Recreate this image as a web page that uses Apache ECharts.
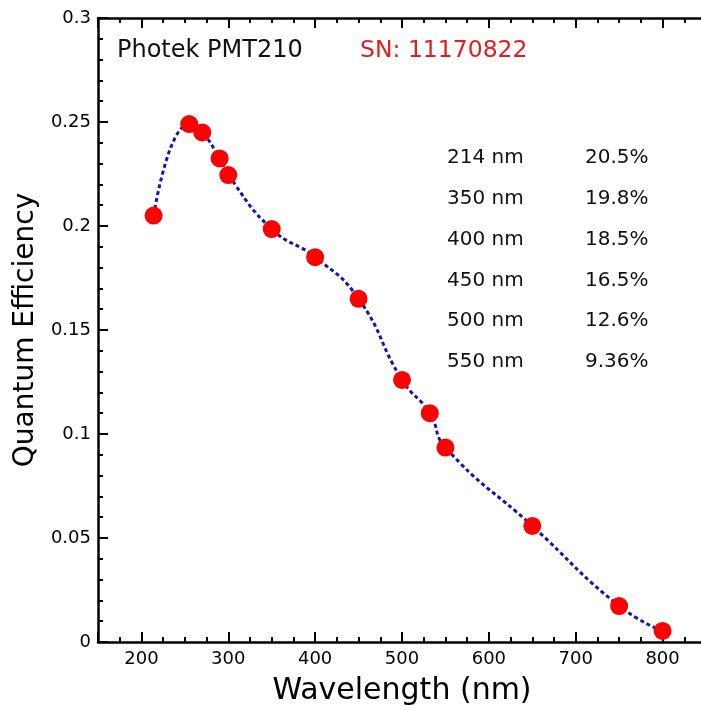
<!DOCTYPE html>
<html>
<head>
<meta charset="utf-8">
<script src="https://cdn.jsdelivr.net/npm/echarts@6/dist/echarts.min.js"></script>
<style>
html, body { margin: 0; padding: 0; background: #fff; }
#chart { width: 701px; height: 710px; }
</style>
</head>
<body>
<div id="chart"></div>
<script>
// 数据
var wavelength = [214, 255, 270, 290, 300, 350, 400, 450, 500, 532, 550, 650, 750, 800];
var qe = [0.205, 0.249, 0.245, 0.2325, 0.2245, 0.1985, 0.185, 0.165, 0.126, 0.110, 0.0935, 0.0558, 0.0173, 0.0053];
var tableWl = ['214 nm', '350 nm', '400 nm', '450 nm', '500 nm', '550 nm'];
var tableQe = ['20.5%', '19.8%', '18.5%', '16.5%', '12.6%', '9.36%'];
var tubeName = 'Photek PMT210';
var serialNo = 'SN: 11170822';

var FONT = 'DejaVu Sans';

function drawChart() {
    var myChart = echarts.init(document.getElementById('chart'));

    var points = [];
    for (var i = 0; i < wavelength.length; i++) {
        points.push([wavelength[i], qe[i]]);
    }

    // 标题 + 右上角表格文字
    var graphics = [
        { type: 'text', x: 117, y: 51, style: { text: tubeName, fontSize: 24, fontFamily: FONT, fill: '#111', verticalAlign: 'middle' } },
        { type: 'text', x: 360, y: 51, style: { text: serialNo, fontSize: 23.5, fontFamily: FONT, fill: '#e02020', verticalAlign: 'middle' } }
    ];
    for (var j = 0; j < tableWl.length; j++) {
        var yy = 158 + j * 40.8;
        graphics.push({ type: 'text', x: 447, y: yy, style: { text: tableWl[j], fontSize: 20, fontFamily: FONT, fill: '#111', verticalAlign: 'middle' } });
        graphics.push({ type: 'text', x: 585, y: yy, style: { text: tableQe[j], fontSize: 20, fontFamily: FONT, fill: '#111', verticalAlign: 'middle' } });
    }

    var axisLine = { show: true, onZero: false, lineStyle: { color: '#000', width: 2.5 } };
    var bigTick = { show: true, inside: true, length: 10, lineStyle: { color: '#000', width: 2 } };
    var smallTick = { show: true, inside: true, length: 5, lineStyle: { color: '#000', width: 2 } };

    // x轴：长刻度(100) + 短刻度(25) 两层叠加，上下各一套
    function majorX(pos, labels) {
        return {
            type: 'value', position: pos, min: 150, max: 850,
            minInterval: 100, maxInterval: 100, splitNumber: 7,
            axisLine: axisLine,
            axisTick: bigTick,
            axisLabel: labels ? {
                fontSize: 18, fontFamily: FONT, color: '#000', margin: 8,
                formatter: function (v) { return (v >= 200 && v <= 800) ? String(v) : ''; }
            } : { show: false },
            splitLine: { show: false }
        };
    }
    function minorX(pos) {
        return {
            type: 'value', position: pos, min: 150, max: 850, interval: 25,
            axisLine: { show: false },
            axisTick: smallTick,
            axisLabel: { show: false },
            splitLine: { show: false }
        };
    }

    var xMain = majorX('bottom', true);
    xMain.name = 'Wavelength (nm)';
    xMain.nameLocation = 'middle';
    xMain.nameGap = 34;
    xMain.nameTextStyle = { fontSize: 30, fontFamily: FONT, color: '#000' };

    var option = {
        animation: false,
        backgroundColor: '#fff',
        grid: { left: 98, top: 18, width: 608, height: 624, outerBoundsMode: 'none' },
        graphic: graphics,
        xAxis: [xMain, minorX('bottom'), majorX('top', false), minorX('top')],
        yAxis: {
            type: 'value',
            min: 0,
            max: 0.3,
            interval: 0.05,
            name: 'Quantum Efficiency',
            nameLocation: 'middle',
            nameGap: 48,
            nameTextStyle: { fontSize: 28, fontFamily: FONT, color: '#000' },
            axisLine: axisLine,
            axisTick: bigTick,
            minorTick: { show: true, splitNumber: 5, length: 5, lineStyle: { color: '#000', width: 2 } },
            axisLabel: { fontSize: 18, fontFamily: FONT, color: '#000', margin: 7 },
            splitLine: { show: false }
        },
        series: [
            {
                type: 'line',
                xAxisIndex: 0,
                data: points,
                smooth: 0.5,
                symbol: 'circle',
                symbolSize: 18,
                itemStyle: { color: '#ff0000' },
                lineStyle: { color: '#1515b0', width: 3, type: [4, 3] },
                z: 3
            }
        ]
    };
    myChart.setOption(option);
}

drawChart();
</script>
</body>
</html>
